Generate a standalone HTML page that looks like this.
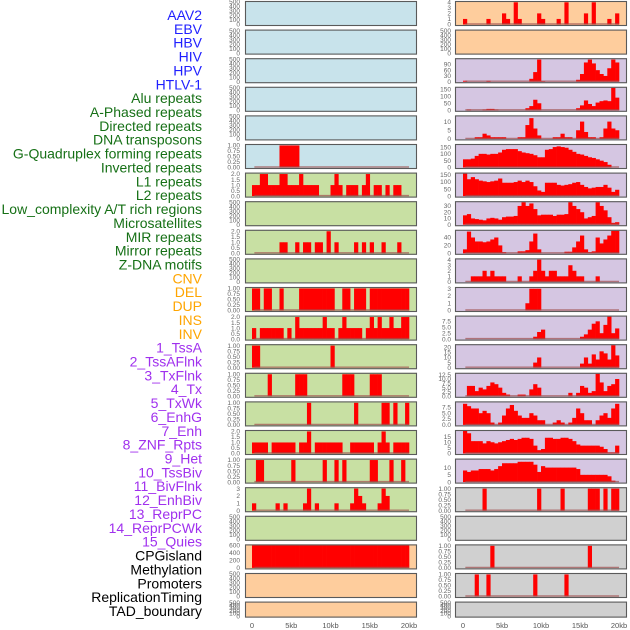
<!DOCTYPE html>
<html><head><meta charset="utf-8"><style>
html,body{margin:0;padding:0;background:#fff;}
svg{display:block;font-family:"Liberation Sans",sans-serif;}
</style></head><body>
<svg id="chart" width="630" height="630" viewBox="0 0 630 630"></svg>
<script>
// ---------- DATA (40 bins of 0.5kb, 0-20kb) ----------
const trackLabels = ["AAV2","EBV","HBV","HIV","HPV","HTLV-1","Alu repeats","A-Phased repeats","Directed repeats","DNA transposons","G-Quadruplex forming repeats","Inverted repeats","L1 repeats","L2 repeats","Low_complexity A/T rich regions","Microsatellites","MIR repeats","Mirror repeats","Z-DNA motifs","CNV","DEL","DUP","INS","INV","1_TssA","2_TssAFlnk","3_TxFlnk","4_Tx","5_TxWk","6_EnhG","7_Enh","8_ZNF_Rpts","9_Het","10_TssBiv","11_BivFlnk","12_EnhBiv","13_ReprPC","14_ReprPCWk","15_Quies","CPGisland","Methylation","Promoters","ReplicationTiming","TAD_boundary"];
const labelColors = ["#1f1fff","#1f1fff","#1f1fff","#1f1fff","#1f1fff","#1f1fff","#167016","#167016","#167016","#167016","#167016","#167016","#167016","#167016","#167016","#167016","#167016","#167016","#167016","#ffa500","#ffa500","#ffa500","#ffa500","#ffa500","#a030ee","#a030ee","#a030ee","#a030ee","#a030ee","#a030ee","#a030ee","#a030ee","#a030ee","#a030ee","#a030ee","#a030ee","#a030ee","#a030ee","#a030ee","#000","#000","#000","#000","#000"];
const xTickLabels = ["0","5kb","10kb","15kb","20kb"];
const xTickValues = [0,5,10,15,20];

const sHTLV = [0,0,0,0,0,0,0,1,1,1,1,1,0,0,0,0,0,0,0,0,0,0,0,0,0,0,0,0,0,0,0,0,0,0,0,0,0,0,0,0];
const sAlu = [1,1,2,2,1,1,1,2,2,1,1,1,2,1,1,1,1,0,0,0,1,2,1,0,1,1,1,0,1,2,0,1,1,0,1,0,1,1,0,0];
const sDirected = [0,0,0,0,0,0,0,1,1,0,0,1,0,1,1,0,1,1,0,2,0,1,0,0,0,0,1,0,1,0,1,0,0,1,0,0,0,1,0,0];
const sGquad = [1,1,0,1,1,0,0,1,0,0,0,0,1,1,1,1,1,1,1,1,1,0,0,1,1,0,1,1,1,0,1,1,1,1,1,1,1,1,1,1];
const sInverted = [1,0,1,1,1,1,1,1,0,1,0,2,1,1,1,1,1,1,2,1,1,0,1,2,1,1,1,1,0,1,2,1,2,1,1,2,1,1,2,2];
const sL1 = [1,1,0,0,0,0,0,0,0,0,0,0,0,0,0,0,0,0,0,0,1,0,0,0,0,0,0,0,0,0,0,0,0,0,0,0,0,0,0,0];
const sL2 = [0,0,0,0,1,0,0,0,0,0,0,1,1,1,0,0,0,0,0,0,0,0,0,1,1,1,0,0,0,0,1,1,1,0,0,0,0,0,0,0];
const sLowCx = [0,0,0,0,0,0,0,0,0,0,0,0,0,0,1,0,0,0,0,0,0,0,0,0,0,0,1,0,0,0,0,0,0,1,1,0,1,0,0,1];
const sMicro = [1,1,1,1,0,1,1,1,1,1,1,0,1,1,2,0,1,1,1,1,1,1,1,0,0,1,1,1,1,1,1,0,1,2,1,0,1,1,1,1];
const sMIR = [0,1,1,0,0,0,0,0,0,0,1,0,0,0,0,0,0,0,1,0,0,1,0,1,0,0,0,0,0,0,1,1,0,0,0,1,0,0,1,0];
const sMirror = [1,0,0,0,0,0,1,0,1,0,0,0,0,1,3,0,1,0,0,0,0,1,0,0,0,1,3,2,1,0,0,0,1,3,2,0,0,0,0,0];
const sCNV = [600,600,600,600,600,600,600,600,600,600,600,600,600,600,600,600,600,600,600,600,600,600,600,600,600,600,600,600,600,600,600,600,600,600,600,600,600,600,600,600];
const sINS = [1,0,0,0,0,0,1,0,0,0,2,1,0,4,1,0,0,0,0,2,1,0,0,0,1,0,4,0,0,0,0,2,0,4,0,0,0,1,0,2];
const sTssA = [5,0,0,0,0,0,5,0,0,0,0,0,0,0,0,0,0,15,50,115,3,0,0,0,0,0,0,0,0,10,40,100,115,95,60,40,30,70,115,100];
const sTssAFlnk = [0,5,0,0,0,5,10,10,5,0,0,0,0,0,0,0,15,30,75,50,0,0,0,0,0,0,0,0,0,15,35,70,45,30,55,65,70,65,160,90];
const sTxFlnk = [0,0,0,1,1,3,2,1,1,1,1,0,0,0,1,1,8,12,6,2,0,0,0,1,1,3,1,1,0,5,10,4,1,1,0,1,6,10,6,5];
const sTx = [60,60,65,85,100,100,95,100,100,110,130,135,135,135,120,110,105,100,90,75,75,130,135,150,155,150,145,130,115,100,95,85,75,70,60,50,40,20,0,0];
const sTxWk = [160,120,135,120,110,105,100,105,110,125,95,95,95,100,110,100,110,100,70,40,30,95,95,95,80,75,80,85,95,100,80,65,55,60,65,65,80,60,30,45];
const sEnhG = [15,17,10,9,8,7,10,11,10,8,12,13,13,14,30,36,30,34,25,15,16,16,16,14,16,16,17,36,30,25,20,10,12,14,36,30,23,12,3,4];
const sEnh = [10,55,40,30,30,28,30,35,40,20,3,0,0,0,5,5,8,30,50,10,0,0,0,0,0,0,4,4,15,30,45,10,3,5,40,25,35,45,57,57];
const sZNF = [0,0,1,1,1,2,1,2,1,1,1,0,0,0,1,0,0,1,2,4,2,1,2,2,1,1,1,3,2,1,1,0,0,0,1,0,0,0,0,0];
const sHet = [0,0,0,0,0,0,0,0,0,0,0,0,0,0,0,0,1,3,3,3,0,0,0,0,0,0,0,0,0,0,0,0,0,0,0,0,0,0,0,0];
const sTssBiv = [0,0,0,0,0,0,0,0,0,0,0,0,0,0,0,0,0,0,1,3,4,0,0,0,0,0,0,0,0,0,1,2,4,6.5,7.5,2.5,6,9.5,2.5,4.5];
const sBivFlnk = [0,0,0,0,0,0,0,0,0,0,0,0,0,0,0,0,0,0,5,10,0,0,0,0,0,0,0,0,0,0,4,10,4,13,8,16,14,8,22,12];
const sEnhBiv = [0,6,6,3,5,4,6,8,7,5,2,1,0,0,1,1,0,4,7,5,0,0,0,0,0,0,0,2,0,2,6,5,2,3,13,8,3,6,7,10];
const sReprPC = [9,8,7,7,5,6,5,1,0,1,4,7,8.5,6,4,3,3,5,4,2,2,0,0,1,2,1,0,1,3,7,5,2,2,0,2,4,5,3,7,9];
const sReprPCWk = [20,18,11,11,11,9,11,10,9,10,11,12,13,12,13,14,14,13,7,3,4,14,14,13,13,14,14,13,11,8,7,7,7,7,7,6,4,1,1,7];
const sQuies = [8,7,8,8,9,9,9,8,9,11,13,13,13,13,14,14,14,14,12,7,11,10,10,10,10,10,10,10,10,9,5,5,5,5,5,5,5,4,1,0];
const sCPG = [0,0,0,0,0,1,0,0,0,0,0,0,0,0,0,0,0,0,0,1,0,0,0,0,0,1,0,0,0,0,0,0,1,1,1,0,1,0,1,1];
const sPromoters = [0,0,0,0,0,0,0,1,0,0,0,0,0,0,0,0,0,0,0,0,0,0,0,0,0,0,0,0,0,0,0,0,1,0,0,0,0,0,0,0];
const sReplication = [0,0,0,1,0,0,1,0,0,0,0,0,0,0,0,0,0,0,1,0,0,0,0,0,0,0,1,0,0,0,0,0,0,0,0,0,0,0,0,0];

const tEmpty = ["0","100","200","300","400","500"];
const tUnit = ["0.00","0.25","0.50","0.75","1.00"];
const tTwo = ["0.0","0.5","1.0","1.5","2.0"];

// panel specs: [series, ticks, ymax, bg]
const BLUE="#c8e3eb", GREEN="#c8e0a3", PEACH="#fecd9d", LAV="#d5c6e2", GRAY="#d0d0d0";
const leftPanels = [
 [null,tEmpty,500,BLUE],[null,tEmpty,500,BLUE],[null,tEmpty,500,BLUE],[null,tEmpty,500,BLUE],[null,tEmpty,500,BLUE],
 [sHTLV,tUnit,1.02,BLUE],
 [sAlu,tTwo,2.04,GREEN],[null,tEmpty,500,GREEN],[sDirected,tTwo,2.04,GREEN],[null,tEmpty,500,GREEN],
 [sGquad,tUnit,1.02,GREEN],[sInverted,tTwo,2.04,GREEN],[sL1,tUnit,1.02,GREEN],[sL2,tUnit,1.02,GREEN],
 [sLowCx,tUnit,1.02,GREEN],[sMicro,tTwo,2.04,GREEN],[sMIR,tUnit,1.02,GREEN],[sMirror,["0","1","2","3"],3.05,GREEN],
 [null,tEmpty,500,GREEN],
 [sCNV,["0","200","400","600"],600,PEACH],[null,tEmpty,500,PEACH],[null,tEmpty,500,PEACH]
];
const rightPanels = [
 [sINS,["0","1","2","3","4"],4.05,PEACH],[null,tEmpty,500,PEACH],
 [sTssA,["0","30","60","90"],117,LAV],[sTssAFlnk,["0","50","100","150"],160,LAV],[sTxFlnk,["0","5","10"],13,LAV],
 [sTx,["0","50","100","150"],165,LAV],[sTxWk,["0","50","100","150"],160,LAV],[sEnhG,["0","10","20","30"],36,LAV],
 [sEnh,["0","20","40"],57,LAV],[sZNF,["0","1","2","3","4"],4.05,LAV],[sHet,["0","1","2","3"],3.1,LAV],
 [sTssBiv,["0.0","2.5","5.0","7.5"],9.5,LAV],[sBivFlnk,["0","5","10","15","20"],22,LAV],
 [sEnhBiv,["0.0","2.5","5.0","7.5","10.0","12.5"],13,LAV],[sReprPC,["0.0","2.5","5.0","7.5"],9.6,LAV],
 [sReprPCWk,["0","5","10","15"],20,LAV],[sQuies,["0","5","10"],15.5,LAV],
 [sCPG,tUnit,1.02,GRAY],[null,tEmpty,500,GRAY],[sPromoters,tUnit,1.02,GRAY],[sReplication,tUnit,1.02,GRAY],[null,tEmpty,500,GRAY]
];

// ---------- DRAW ----------
const NS="http://www.w3.org/2000/svg";
const svg=document.getElementById("chart");
function mk(tag,attrs,parent){const e=document.createElementNS(NS,tag);for(const k in attrs)e.setAttribute(k,attrs[k]);(parent||svg).appendChild(e);return e;}
function slug(s){return s.toLowerCase().replace(/[^a-z0-9]+/g,"-").replace(/^-|-$/g,"");}

// row labels
trackLabels.forEach((t,i)=>{
  const e=mk("text",{x:202,y:20+i*13.86,"text-anchor":"end","font-size":"14",fill:labelColors[i]});
  e.textContent=t;
  
  
});

function rowTop(i){return 1+i*28.6;}
function rowH(i){return i===21?16:25;}

function drawColumn(panels,names,px0,px1,dataX0,dataX1,tickX,colName){
  const xScale=kb=>dataX0+(dataX1-dataX0)*kb/20;
  panels.forEach((p,i)=>{
    const [series,ticks,ymax,bg]=p;
    const top=rowTop(i),h=rowH(i);
    const g=mk("g",{});
    
    
    const y0=top+h-1.5, y1=top+1;
    const yScale=v=>y0-(y0-y1)*v/ymax;
    const bgr=mk("rect",{x:px0,y:top,width:px1-px0,height:h,fill:bg},g);
    
    
    if(series){
      series.forEach((v,k)=>{
        if(v<=0)return;
        const xa=xScale(k*0.5),xb=xScale((k+1)*0.5);
        const yv=Math.max(yScale(v),top);
        const r=mk("rect",{x:xa.toFixed(2),y:yv.toFixed(2),width:(xb-xa+0.3).toFixed(2),height:(y0-yv).toFixed(2),fill:"#ff0000"},g);
        
        
      });
      const bl=mk("line",{x1:xScale(0.3),x2:xScale(20),y1:y0-0.5,y2:y0-0.5,stroke:"#a05050","stroke-width":1.4,"stroke-opacity":0.7},g);
      
      
    }
    const br=mk("rect",{x:px0+0.5,y:top+0.5,width:px1-px0-1,height:h-1,fill:"none",stroke:"#5a5a5a","stroke-width":1.1},g);
    
    
    ticks.forEach(t=>{
      const v=parseFloat(t);
      const ty=yScale(v);
      const te=mk("text",{x:tickX,y:(ty+2.2).toFixed(2),"text-anchor":"end","font-size":"6.5",fill:"#666"},g);
      te.textContent=t;
      
      
    });
  });
  xTickValues.forEach((v,j)=>{
    const te=mk("text",{x:xScale(v),y:628,"text-anchor":"middle","font-size":"7.5",fill:"#555"});
    te.textContent=xTickLabels[j];
    
    
  });
}
drawColumn(leftPanels,trackLabels.slice(0,22),245,417,252,409,240,"left");
drawColumn(rightPanels,trackLabels.slice(22),455,627,463,619,451,"right");
</script>
</body></html>
